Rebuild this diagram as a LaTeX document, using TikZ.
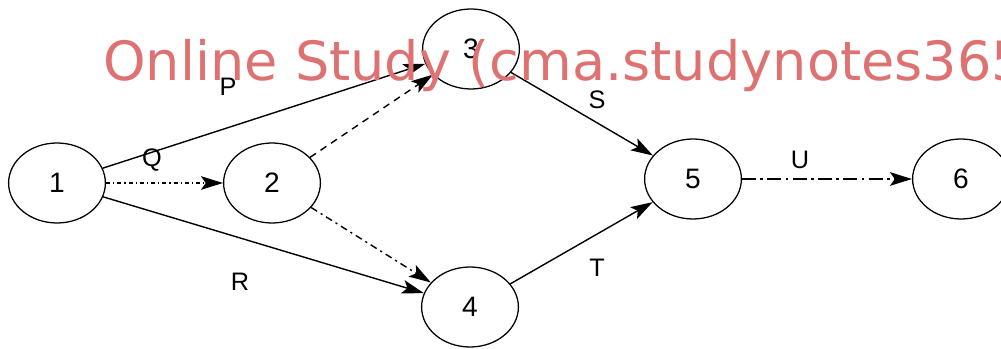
\documentclass[tikz,border=0pt]{standalone}
\usepackage{fontspec}
\setmainfont{Liberation Sans}
\newfontfamily\markfont{DejaVu Sans}
\usetikzlibrary{arrows.meta,shapes.geometric}
\definecolor{markred}{RGB}{222,114,114}

\begin{document}
\begin{tikzpicture}[>={Stealth[length=5.5mm,width=3.4mm,inset=1.2mm]},
  event/.style={draw,line width=0.9pt,ellipse,minimum width=2.42cm,minimum height=2cm,inner sep=0pt,font=\fontsize{20}{20}\selectfont},
  act/.style={->,line width=1pt},
  lbl/.style={font=\fontsize{18}{18}\selectfont}]
\useasboundingbox (0,0) rectangle (25.025,8.725);
\clip (0,0) rectangle (25.025,8.725);
\node[event] (e1) at (1.425,4.15) {1};
\node[event] (e2) at (6.8,4.15) {2};
\node[event] (e3) at (11.775,7.5) {3};
\node[event] (e4) at (11.75,1.05) {4};
\node[event] (e5) at (17.325,4.25) {5};
\node[event] (e6) at (24.025,4.25) {6};
% activities
\draw[act] (e1) -- (e3);
\draw[act,dash pattern=on 3pt off 2pt on 1pt off 2pt] (e1) -- (e2);
\draw[act] (e1) -- (e4);
\draw[act,dash pattern=on 5pt off 4pt] (e2) -- (e3);
\draw[act,dash pattern=on 5pt off 3pt on 1.5pt off 3pt] (e2) -- (e4);
\draw[act] (e3) -- (e5);
\draw[act] (e4) -- (e5);
\draw[act,dash pattern=on 10pt off 3pt on 2pt off 3pt] (e5) -- (e6);
\node[lbl] (lP) at (5.7,6.55) {P};
\node[lbl] (lQ) at (3.8,4.725) {Q};
\node[lbl] (lR) at (6.0,1.675) {R};
\node[lbl] (lS) at (14.925,6.225) {S};
\node[lbl] (lT) at (14.925,2.025) {T};
\node[lbl] (lU) at (20.0,4.725) {U};
% watermark
\node[anchor=base west,inner sep=0pt,text=markred,font=\markfont\fontsize{38.5}{38.5}\selectfont] (mark) at (2.575,6.72) {Online Study (cma.studynotes365.com)};
\end{tikzpicture}
\end{document}
